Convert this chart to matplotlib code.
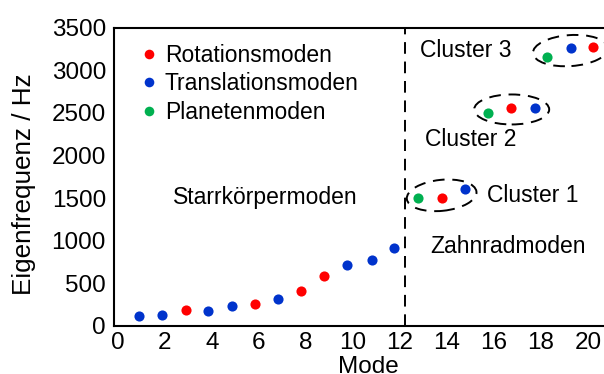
import matplotlib
matplotlib.use('Agg')
import matplotlib.pyplot as plt
from matplotlib.patches import Ellipse
from matplotlib.transforms import ScaledTranslation
import numpy as np

plt.rcParams['font.family'] = ['Liberation Sans', 'DejaVu Sans']

# mode positions and eigenfrequencies (Hz)
rot_x = [2.89, 5.84, 7.81, 8.79, 13.79, 16.74, 20.21]
rot_y = [187, 253, 413, 591, 1498, 2560, 3275]
trans_x = [0.88, 1.87, 3.83, 4.86, 6.83, 9.76, 10.81, 11.77, 14.75, 17.76, 19.28]
trans_y = [117, 128, 179, 230, 311, 720, 775, 910, 1603, 2560, 3260]
plan_x = [12.79, 15.77, 18.27]
plan_y = [1498, 2502, 3159]

# which points belong to each cluster (x, y)
clusters = {
    'Cluster 1': ([12.79, 13.79, 14.75], [1498, 1498, 1603]),
    'Cluster 2': ([15.77, 16.74, 17.76], [2502, 2560, 2560]),
    'Cluster 3': ([18.27, 19.28, 20.21], [3159, 3260, 3275]),
}
cluster_label_pos = {
    'Cluster 1': (17.67, 1537),
    'Cluster 2': (15.03, 2190),
    'Cluster 3': (14.82, 3229),
}
ellipse_size = {  # inches (width, height, angle)
    'Cluster 1': (0.70, 0.31, 6),
    'Cluster 2': (0.75, 0.30, 0),
    'Cluster 3': (0.75, 0.31, 4),
}

RED = '#ff0000'
BLUE = '#0033cc'
GREEN = '#00b050'

fig = plt.figure(figsize=(6.04, 3.74), dpi=100)
ax = fig.add_axes([114.3/604, 48/374, (622-114.3)/604, (326-27.7)/374])

ms = 7.3
ax.plot(rot_x, rot_y, 'o', color=RED, ms=ms, mec='none', label='Rotationsmoden')
ax.plot(trans_x, trans_y, 'o', color=BLUE, ms=ms, mec='none', label='Translationsmoden')
ax.plot(plan_x, plan_y, 'o', color=GREEN, ms=ms, mec='none', label='Planetenmoden')

ax.axvline(12.22, color='black', lw=1.4, ls=(0, (6, 4)))

for name, (cx, cy) in clusters.items():
    w, h, a = ellipse_size[name]
    tr = fig.dpi_scale_trans + ScaledTranslation(np.mean(cx), np.mean(cy), ax.transData)
    ax.add_patch(Ellipse((0, 0), w, h, angle=a, transform=tr, fill=False,
                         ec='black', lw=1.4, ls=(0, (6, 4))))
    lx, ly = cluster_label_pos[name]
    ax.text(lx, ly, name, fontsize=16.5, ha='center', va='center')

ax.text(6.27, 1513, 'Starrkörpermoden', fontsize=16.5, ha='center', va='center')
ax.text(16.6, 930, 'Zahnradmoden', fontsize=16.5, ha='center', va='center')

ax.set_xlim(-0.15, 21.45)
ax.set_ylim(0, 3500)
ax.set_xticks(range(0, 21, 2))
ax.set_yticks(range(0, 3501, 500))
ax.tick_params(length=0, labelsize=17.5)
ax.tick_params(axis='x', pad=4)
ax.tick_params(axis='y', pad=6)
for s in ax.spines.values():
    s.set_linewidth(1.5)

ax.set_xlabel('Mode', fontsize=17.5, labelpad=1.5)
ax.set_ylabel('Eigenfrequenz / Hz', fontsize=18.8)
ax.yaxis.set_label_coords(-0.154, 0.474)

ax.legend(loc='upper left', bbox_to_anchor=(0.018, 1.0), frameon=False, fontsize=16.5,
          handlelength=0.8, handletextpad=0.3, labelspacing=0.24, borderaxespad=0.3,
          markerscale=0.95)

fig.savefig('out.png', dpi=100)
